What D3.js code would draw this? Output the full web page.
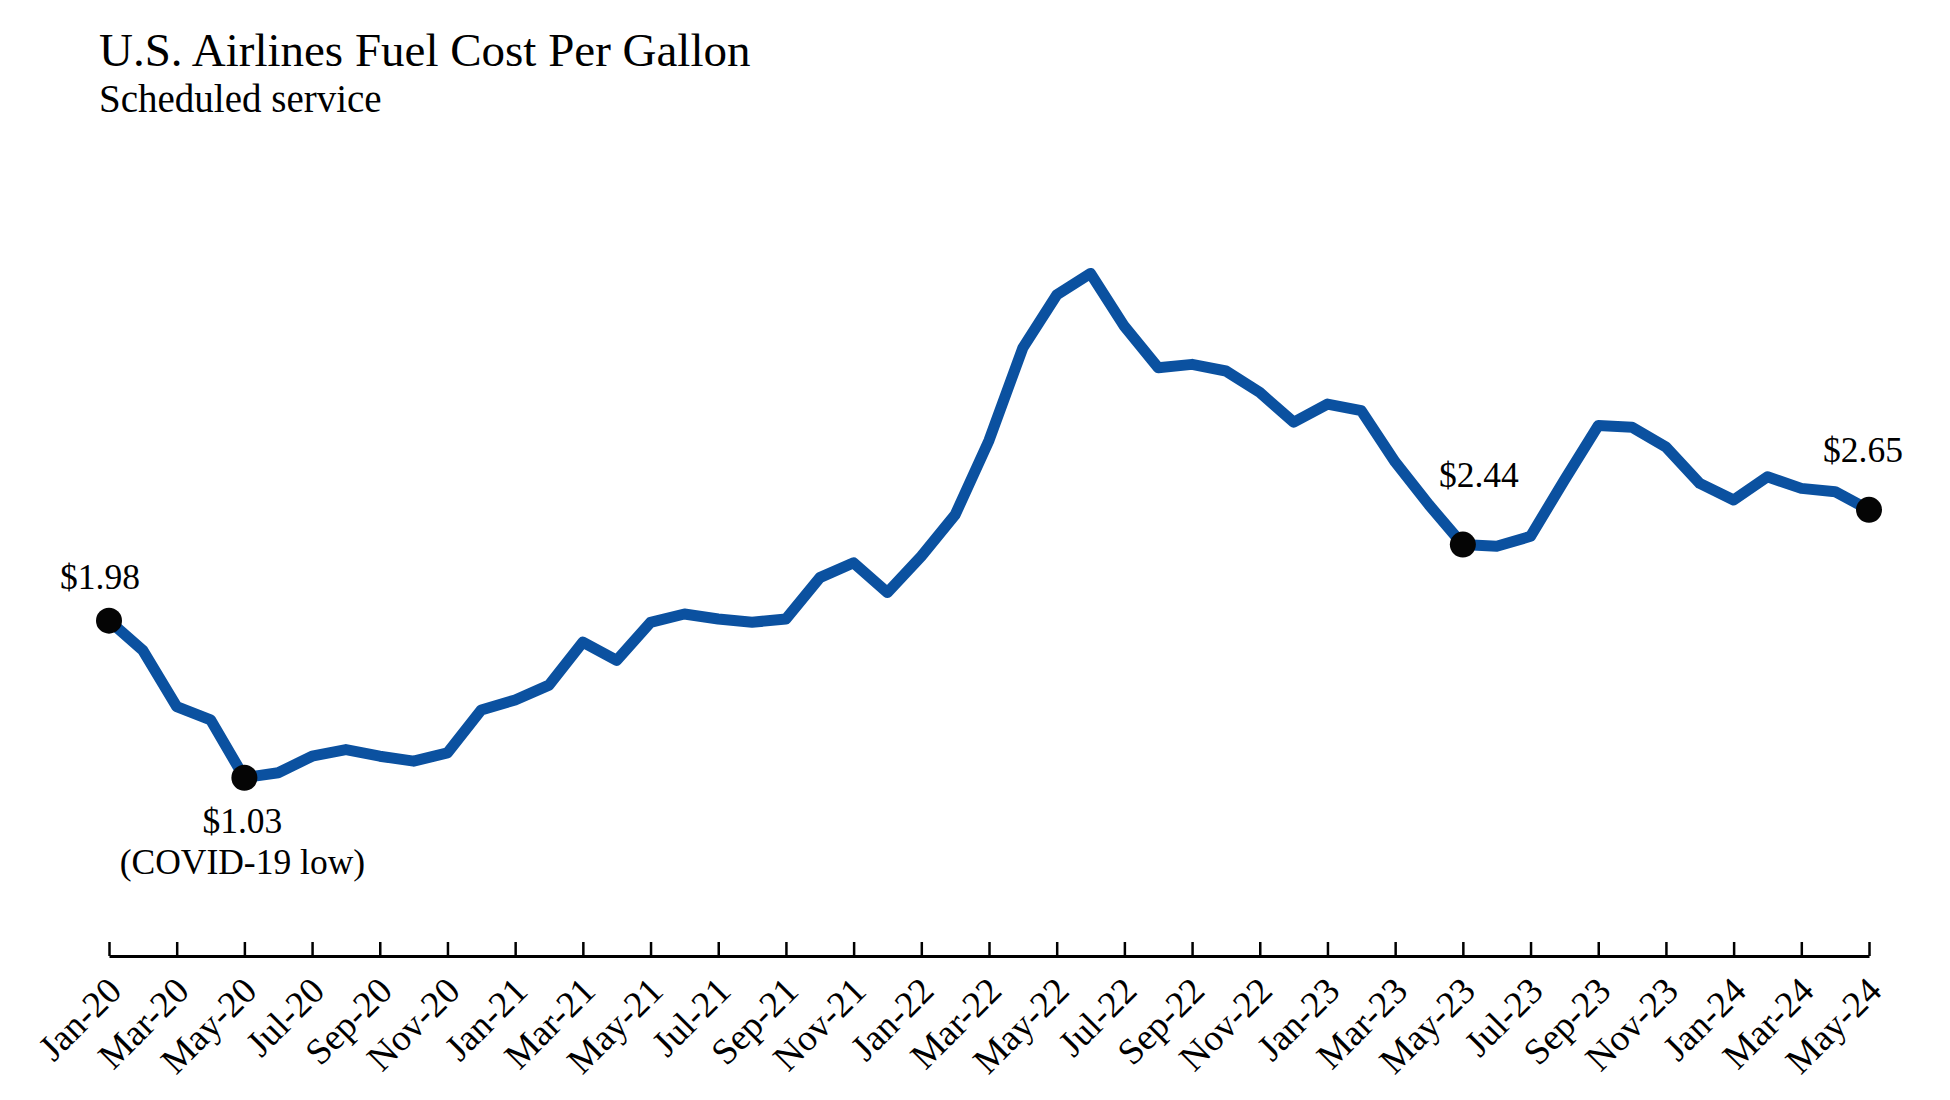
<!DOCTYPE html>
<html>
<head>
<meta charset="utf-8">
<script src="https://cdn.jsdelivr.net/npm/d3@7"></script>
<style>
  body { margin: 0; background: #fff; }
  svg text { font-family: "Liberation Serif", "Times New Roman", serif; fill: #000; }
</style>
</head>
<body>
<svg id="fuel_chart"></svg>
<script>
// Months Jan-20 .. May-24
const months = [
    "Jan-20", "Feb-20", "Mar-20", "Apr-20", "May-20", "Jun-20", "Jul-20", "Aug-20", "Sep-20", "Oct-20", "Nov-20", "Dec-20",
    "Jan-21", "Feb-21", "Mar-21", "Apr-21", "May-21", "Jun-21", "Jul-21", "Aug-21", "Sep-21", "Oct-21", "Nov-21", "Dec-21",
    "Jan-22", "Feb-22", "Mar-22", "Apr-22", "May-22", "Jun-22", "Jul-22", "Aug-22", "Sep-22", "Oct-22", "Nov-22", "Dec-22",
    "Jan-23", "Feb-23", "Mar-23", "Apr-23", "May-23", "Jun-23", "Jul-23", "Aug-23", "Sep-23", "Oct-23", "Nov-23", "Dec-23",
    "Jan-24", "Feb-24", "Mar-24", "Apr-24", "May-24"
];

// Fuel cost per gallon ($)
const fuelCost = [
    1.98, 1.80, 1.46, 1.38, 1.03, 1.06, 1.16, 1.20, 1.16, 1.13, 1.18, 1.44,
    1.50, 1.59, 1.85, 1.74, 1.97, 2.02, 1.99, 1.97, 1.99, 2.24, 2.33, 2.15,
    2.37, 2.62, 3.07, 3.63, 3.95, 4.08, 3.76, 3.51, 3.53, 3.49, 3.36, 3.18,
    3.29, 3.25, 2.94, 2.68, 2.44, 2.43, 2.49, 2.83, 3.16, 3.15, 3.03, 2.81,
    2.71, 2.85, 2.78, 2.76, 2.65
];

// Tick labels: every second month
const tickLabels = months.filter((m, i) => i % 2 === 0);

// Highlighted points
const markedMonths = ["Jan-20", "May-20", "May-23", "May-24"];
const markedLabels = [["$1.98"], ["$1.03", "(COVID-19 low)"], ["$2.44"], ["$2.65"]];

const svgWidth = 1950, svgHeight = 1100;
const axisY = 956;

const svg = d3.select("#fuel_chart")
    .attr("width", svgWidth)
    .attr("height", svgHeight);

// Scales
const xScale = d3.scalePoint()
    .domain(months)
    .range([109, 1869]);

const yScale = d3.scaleLinear()
    .domain([0, 4.5])
    .range([948, 204]);

// Title
svg.append("text")
    .attr("x", 99)
    .attr("y", 66)
    .style("font-size", "47px")
    .text("U.S. Airlines Fuel Cost Per Gallon");

svg.append("text")
    .attr("x", 99)
    .attr("y", 112)
    .style("font-size", "39px")
    .text("Scheduled service");

// X axis, ticks pointing up
const xAxis = svg.append("g")
    .attr("transform", `translate(0, ${axisY})`)
    .call(d3.axisBottom(xScale)
        .tickValues(tickLabels)
        .tickSizeInner(-14)
        .tickSizeOuter(0));

xAxis.select(".domain")
    .attr("stroke", "#000")
    .attr("stroke-width", 3);

xAxis.selectAll(".tick line")
    .attr("stroke", "#000")
    .attr("stroke-width", 2.5);

xAxis.selectAll(".tick text")
    .attr("y", 0)
    .attr("dy", 0)
    .attr("text-anchor", "end")
    .attr("transform", "translate(14, 37) rotate(-45)")
    .style("font-family", "'Liberation Serif', 'Times New Roman', serif")
    .style("font-size", "37px")
    .attr("fill", "#000");

// Line
const line = d3.line()
    .x((d, i) => xScale(months[i]))
    .y(d => yScale(d));

svg.append("path")
    .datum(fuelCost)
    .attr("fill", "none")
    .attr("stroke", "#0b51a0")
    .attr("stroke-width", 11)
    .attr("stroke-linejoin", "round")
    .attr("d", line);

// Marked points
const marks = markedMonths.map((m, i) => ({
    month: m,
    value: fuelCost[months.indexOf(m)],
    label: markedLabels[i]
}));

svg.selectAll(".mark")
    .data(marks)
    .enter()
    .append("circle")
    .attr("class", "mark")
    .attr("cx", d => xScale(d.month))
    .attr("cy", d => yScale(d.value))
    .attr("r", 13)
    .attr("fill", "#050505");

// Label offsets relative to the point (above, or below for the low)
const labelOffsets = [[-9, -32], [-2, 55], [16, -58], [-6, -48]];

marks.forEach((d, i) => {
    const t = svg.append("text")
        .attr("text-anchor", "middle")
        .style("font-size", "35.5px")
        .attr("x", xScale(d.month) + labelOffsets[i][0])
        .attr("y", yScale(d.value) + labelOffsets[i][1]);
    d.label.forEach((s, j) => {
        t.append("tspan")
            .attr("x", xScale(d.month) + labelOffsets[i][0])
            .attr("dy", j === 0 ? 0 : 41)
            .text(s);
    });
});
</script>
</body>
</html>
